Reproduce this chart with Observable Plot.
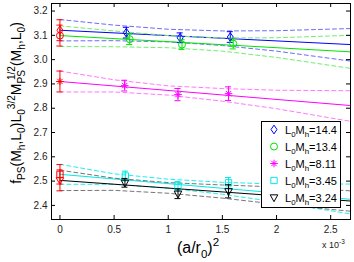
<!DOCTYPE html>
<html><head><meta charset="utf-8">
<script src="https://cdn.jsdelivr.net/npm/d3@7"></script>
<script src="https://cdn.jsdelivr.net/npm/@observablehq/plot@0.6"></script>
<style>
body{margin:0;background:#fff}
#chart{position:relative;width:354px;height:262px}
svg{font-family:"Liberation Sans",Arial,Helvetica,sans-serif}
</style>
</head><body><div id="chart"></div>
<script>
// ---------------- data ----------------
const xTicks = [0, 0.5, 1, 1.5, 2, 2.5];
const yTicks = [2.4, 2.5, 2.6, 2.7, 2.8, 2.9, 3.0, 3.1, 3.2];
const seriesLabels = ["14.4", "13.4", "8.11", "3.45", "3.24"];
const seriesColors = ["#0000ff", "#00e600", "#ff00ff", "#00e8e8", "#000000"];
const bandColors = ["#6b6bff", "#70ee70", "#ff78ff", "#20eeee", "#777777"];
const extrapColor = "#ff0000";

// measured points (a/r0)^2 in units of 1e-3
const ptX = [
  [0.613, 1.110, 1.573],
  [0.644, 1.127, 1.600],
  [0.598, 1.090, 1.557],
  [0.604, 1.090, 1.557],
  [0.600, 1.090, 1.557]
];
const ptY = [
  [3.111, 3.090, 3.093],
  [3.084, 3.062, 3.066],
  [2.893, 2.856, 2.860],
  [2.521, 2.480, 2.493],
  [2.493, 2.448, 2.458]
];
const ptErr = [
  [0.022, 0.020, 0.022],
  [0.022, 0.020, 0.022],
  [0.022, 0.025, 0.028],
  [0.020, 0.018, 0.022],
  [0.018, 0.020, 0.027]
];
// continuum extrapolated values at (a/r0)^2 = 0
const x0Y = [3.121, 3.099, 2.910, 2.528, 2.503];
const x0Err = [0.043, 0.043, 0.043, 0.040, 0.043];

// fit lines
const fitX = [0, 2.683];
const fitY = [
  [3.121, 3.062],
  [3.099, 3.032],
  [2.910, 2.811],
  [2.528, 2.425],
  [2.503, 2.418]
];
// error bands of the fits
const bandX = [0, 0.5, 1.0, 1.5, 2.0, 2.683];
const bandUp = [
  [3.165, 3.142, 3.125, 3.118, 3.119, 3.128],
  [3.139, 3.118, 3.099, 3.089, 3.090, 3.100],
  [2.953, 2.917, 2.892, 2.881, 2.874, 2.872],
  [2.569, 2.530, 2.508, 2.495, 2.488, 2.488],
  [2.545, 2.512, 2.494, 2.484, 2.476, 2.460]
];
const bandLo = [
  [3.077, 3.078, 3.073, 3.058, 3.035, 2.994],
  [3.054, 3.053, 3.049, 3.035, 3.009, 2.964],
  [2.867, 2.867, 2.854, 2.829, 2.798, 2.746],
  [2.487, 2.487, 2.471, 2.446, 2.414, 2.365],
  [2.461, 2.462, 2.450, 2.430, 2.405, 2.376]
];

// ---------------- symbols ----------------
const symDiamond = {draw(c, s){const r=Math.sqrt(s/Math.PI); c.moveTo(0,-1.25*r); c.lineTo(0.85*r,0); c.lineTo(0,1.25*r); c.lineTo(-0.85*r,0); c.closePath();}};
const symCircle = {draw(c, s){const r=Math.sqrt(s/Math.PI); c.moveTo(r,0); c.arc(0,0,r,0,2*Math.PI);}};
const symAst = {draw(c, s){const r=Math.sqrt(s/Math.PI); const d=r*0.707; c.moveTo(-r,0); c.lineTo(r,0); c.moveTo(0,-r); c.lineTo(0,r); c.moveTo(-d,-d); c.lineTo(d,d); c.moveTo(-d,d); c.lineTo(d,-d);}};
const symSquare = {draw(c, s){const r=Math.sqrt(s/Math.PI)*0.9; c.rect(-r,-r,2*r,2*r);}};
const symTriDown = {draw(c, s){const r=Math.sqrt(s/Math.PI); c.moveTo(0,1.1*r); c.lineTo(-r,-0.7*r); c.lineTo(r,-0.7*r); c.closePath();}};
const symbols = [symDiamond, symCircle, symAst, symSquare, symTriDown];
const symR = [3.5, 3.5, 3.8, 3.5, 3.8];

// ---------------- chart ----------------
const xDomain = [-0.078, 2.683];
const yDomain = [2.342, 3.231];
const W = 354, H = 262, mL = 51, mR = 4, mT = 3, mB = 43;
const tickPx = 4;
const tyLen = tickPx / (H - mT - mB) * (yDomain[1] - yDomain[0]);
const txLen = tickPx / (W - mL - mR) * (xDomain[1] - xDomain[0]);
const capW = 0.028;

const marks = [];
for (let i = 0; i < 5; i++) {
  const band = bandX.map((x, k) => ({x, up: bandUp[i][k], lo: bandLo[i][k]}));
  marks.push(Plot.line(band, {x: "x", y: "up", stroke: bandColors[i], strokeWidth: 1, strokeDasharray: "4,3"}));
  marks.push(Plot.line(band, {x: "x", y: "lo", stroke: bandColors[i], strokeWidth: 1, strokeDasharray: "4,3"}));
  const fit = fitX.map((x, k) => ({x, y: fitY[i][k]}));
  marks.push(Plot.line(fit, {x: "x", y: "y", stroke: seriesColors[i], strokeWidth: 1}));
}
function errMarks(pts, color, sym, r) {
  return [
    Plot.ruleX(pts, {x: "x", y1: d => d.y - d.e, y2: d => d.y + d.e, stroke: color, strokeWidth: 1}),
    Plot.ruleY(pts, {y: d => d.y - d.e, x1: d => d.x - capW, x2: d => d.x + capW, stroke: color, strokeWidth: 1}),
    Plot.ruleY(pts, {y: d => d.y + d.e, x1: d => d.x - capW, x2: d => d.x + capW, stroke: color, strokeWidth: 1}),
    Plot.dot(pts, {x: "x", y: "y", symbol: sym, r, stroke: color, fill: "none", strokeWidth: 1})
  ];
}
for (let i = 0; i < 5; i++) {
  const pts = ptX[i].map((x, k) => ({x, y: ptY[i][k], e: ptErr[i][k]}));
  marks.push(...errMarks(pts, seriesColors[i], symbols[i], symR[i]));
}
for (let i = 0; i < 5; i++) {
  marks.push(...errMarks([{x: 0, y: x0Y[i], e: x0Err[i]}], extrapColor, symbols[i], symR[i]));
}
// inward ticks on all four sides
marks.push(Plot.ruleX(xTicks, {x: d => d, y1: yDomain[0], y2: yDomain[0] + tyLen, stroke: "#000"}));
marks.push(Plot.ruleX(xTicks, {x: d => d, y1: yDomain[1] - tyLen, y2: yDomain[1], stroke: "#000"}));
marks.push(Plot.ruleY(yTicks, {y: d => d, x1: xDomain[0], x2: xDomain[0] + txLen, stroke: "#000"}));
marks.push(Plot.ruleY(yTicks, {y: d => d, x1: xDomain[1] - txLen, x2: xDomain[1], stroke: "#000"}));
marks.push(Plot.frame({stroke: "#000", strokeWidth: 1}));
marks.push(Plot.axisX({ticks: xTicks, tickSize: 0, tickPadding: 6, fontSize: 10, label: null, tickFormat: d => String(d), fill: "#222"}));
marks.push(Plot.axisY({ticks: yTicks, tickSize: 0, tickPadding: 4, fontSize: 10, label: null, tickFormat: d => d.toFixed(1), fill: "#222"}));

const svgNode = Plot.plot({
  width: W, height: H,
  marginLeft: mL, marginRight: mR, marginTop: mT, marginBottom: mB,
  x: {domain: xDomain},
  y: {domain: yDomain},
  style: {fontFamily: '"Liberation Sans", Arial, sans-serif', background: "#fff"},
  marks
});
document.getElementById("chart").appendChild(svgNode);

// ---------------- rich text (labels, legend) ----------------
const svg = d3.select(svgNode);
function rich(sel, parts, size) {
  let shift = 0;
  parts.forEach(p => {
    const target = p.s === "sub" ? size * 0.32 : p.s === "sup" ? -size * 0.42 : 0;
    const ts = sel.append("tspan").text(p.t)
      .attr("font-size", p.s ? size * 0.72 : size)
      .attr("dy", (target - shift).toFixed(2));
    if (p.dx) ts.attr("dx", p.dx);
    shift = target;
  });
}
// y label
const yl = svg.append("text").attr("transform", "translate(21,103) rotate(-90)")
  .attr("text-anchor", "middle").attr("fill", "#000");
rich(yl, [
  {t: "f"}, {t: "PS", s: "sub"}, {t: "(M"}, {t: "h", s: "sub"}, {t: ",L"}, {t: "0", s: "sub"}, {t: ")"},
  {t: "L"}, {t: "0", s: "sub"}, {t: "3/2", s: "sup"},
  {t: "M"}, {t: "PS", s: "sub"}, {t: "1/2", s: "sup", dx: -10},
  {t: "(M"}, {t: "h", s: "sub"}, {t: ",L"}, {t: "0", s: "sub"}, {t: ")"}
], 14);
// x label
const xl = svg.append("text").attr("x", 198).attr("y", 253).attr("text-anchor", "middle").attr("fill", "#000");
rich(xl, [{t: "(a/r"}, {t: "0", s: "sub"}, {t: ")"}, {t: "2", s: "sup"}], 16);
// exponent
const ex = svg.append("text").attr("x", 322).attr("y", 248).attr("text-anchor", "start").attr("fill", "#222");
rich(ex, [{t: "x 10"}, {t: "-3", s: "sup"}], 9);

// legend
const lg = svg.append("g");
lg.append("rect").attr("x", 261.5).attr("y", 121.5).attr("width", 79).attr("height", 86)
  .attr("fill", "#fff").attr("stroke", "#000");
seriesLabels.forEach((lab, i) => {
  const cy = 129.5 + i * 17;
  lg.append("path").attr("transform", `translate(274,${cy})`)
    .attr("d", d3.symbol(symbols[i], Math.PI * symR[i] * symR[i])())
    .attr("fill", "none").attr("stroke", seriesColors[i]);
  const t = lg.append("text").attr("x", 285).attr("y", cy + 4).attr("text-anchor", "start").attr("fill", "#000");
  rich(t, [{t: "L"}, {t: "0", s: "sub"}, {t: "M"}, {t: "h", s: "sub"}, {t: "=" + lab}], 11);
});
</script>
</body></html>
